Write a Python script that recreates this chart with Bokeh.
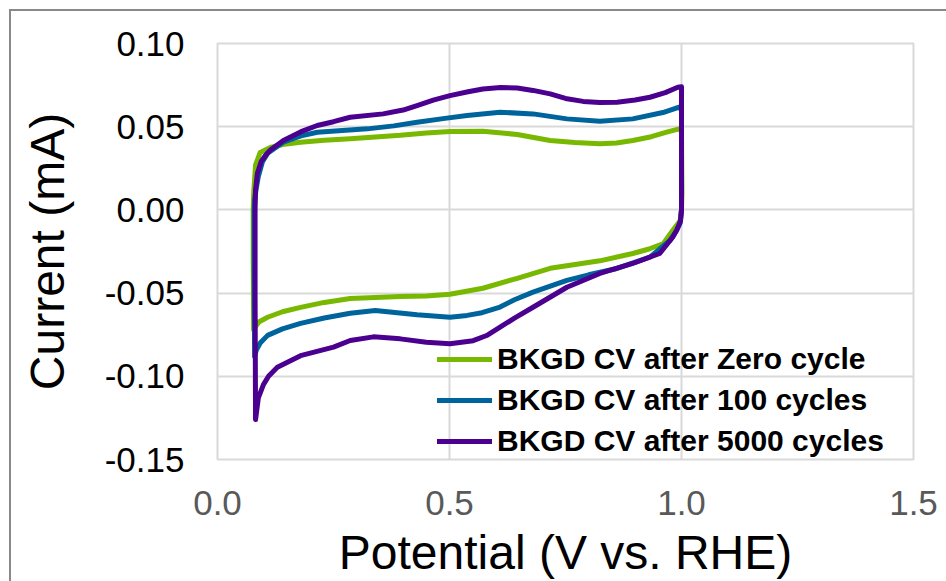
from bokeh.plotting import figure
from bokeh.models import Range1d, FixedTicker, NumeralTickFormatter, Legend, LegendItem
from bokeh.embed import file_html
from bokeh.resources import INLINE

# ---- data ----
x_zero = [0.078, 0.077, 0.077, 0.078, 0.082, 0.092, 0.114, 0.140, 0.179, 0.230, 0.286, 0.340, 0.394,
          0.450, 0.501, 0.572, 0.646, 0.717, 0.770, 0.824, 0.860, 0.895, 0.935, 0.968, 0.995,
          1.000, 1.001, 1.000, 0.997, 0.981, 0.961, 0.930, 0.895, 0.824, 0.717, 0.646, 0.572,
          0.501, 0.450, 0.394, 0.286, 0.230, 0.179, 0.140, 0.108, 0.090, 0.082, 0.078]
y_zero = [-0.072, -0.030, 0.000, 0.010, 0.027, 0.0345, 0.0375, 0.0393, 0.0406, 0.0418, 0.0428, 0.0438, 0.0448,
          0.0462, 0.0471, 0.0473, 0.0453, 0.0417, 0.0405, 0.0397, 0.0402, 0.0417, 0.0440, 0.0467, 0.0487,
          0.047, 0.010, 0.000, -0.0065, -0.0124, -0.0202, -0.0235, -0.0262, -0.0306, -0.0351, -0.0411, -0.0471,
          -0.0507, -0.0517, -0.0520, -0.0532, -0.0556, -0.0586, -0.0612, -0.0645, -0.0672, -0.0700, -0.072]

x_100 = [0.080, 0.079, 0.079, 0.080, 0.083, 0.088, 0.097, 0.108, 0.142, 0.180, 0.215, 0.323, 0.380, 0.430,
         0.490, 0.538, 0.609, 0.680, 0.753, 0.824, 0.895, 0.960, 0.995, 1.000, 1.000, 0.997, 0.988,
         0.975, 0.932, 0.861, 0.800, 0.753, 0.680, 0.640, 0.609, 0.570, 0.538, 0.501, 0.430, 0.340, 0.286, 0.230,
         0.179, 0.140, 0.108, 0.092, 0.084, 0.080]
y_100 = [-0.088, -0.040, 0.000, 0.006, 0.012, 0.020, 0.029, 0.034, 0.0407, 0.0445, 0.0467, 0.0487, 0.0505, 0.0527,
         0.0550, 0.0567, 0.0587, 0.0577, 0.0547, 0.0533, 0.0547, 0.0585, 0.0617, 0.060, 0.000, -0.008, -0.013,
         -0.0184, -0.0284, -0.0352, -0.0390, -0.0424, -0.0494, -0.0540, -0.0584, -0.0618, -0.0634, -0.0645, -0.0630, -0.0605, -0.0621, -0.0650,
         -0.0682, -0.0715, -0.0754, -0.0800, -0.084, -0.088]

x_5000 = [0.082, 0.081, 0.081, 0.082, 0.086, 0.094, 0.104, 0.114, 0.142, 0.180, 0.215, 0.250, 0.286, 0.357,
          0.400, 0.430, 0.465, 0.501, 0.540, 0.572, 0.610, 0.646, 0.680, 0.717, 0.750, 0.788, 0.824, 0.861,
          0.900, 0.932, 0.965, 0.992, 1.000, 1.000, 0.998, 0.990, 0.981, 0.953, 0.895, 0.824, 0.753,
          0.680, 0.640, 0.609, 0.580, 0.551, 0.501, 0.450, 0.394, 0.336, 0.286, 0.250, 0.179, 0.129,
          0.110, 0.099, 0.088, 0.082]
y_5000 = [-0.126, -0.050, 0.000, 0.012, 0.022, 0.029, 0.033, 0.036, 0.0417, 0.0470, 0.0507, 0.0530, 0.0557, 0.0577,
          0.0600, 0.0627, 0.0660, 0.0687, 0.0710, 0.0727, 0.0735, 0.0733, 0.0718, 0.0697, 0.0670, 0.0652, 0.0645, 0.0647,
          0.0660, 0.0677, 0.0705, 0.0737, 0.074, 0.000, -0.0065, -0.012, -0.0164, -0.0262, -0.0322, -0.0382, -0.0465,
          -0.0585, -0.0650, -0.0705, -0.0755, -0.0786, -0.0805, -0.0795, -0.0775, -0.0763, -0.0785, -0.0825, -0.0876, -0.0946,
          -0.1000, -0.105, -0.113, -0.126]

series_labels = ["BKGD CV after Zero cycle", "BKGD CV after 100 cycles", "BKGD CV after 5000 cycles"]
series_colors = ["#78B800", "#00649C", "#4B0090"]

x_ticks = [0.0, 0.5, 1.0, 1.5]
y_ticks = [-0.15, -0.10, -0.05, 0.00, 0.05, 0.10]

FONT = "Liberation Sans"

p = figure(width=946, height=581, output_backend="svg", toolbar_location=None,
           x_range=Range1d(0, 1.5), y_range=Range1d(-0.15, 0.10),
           min_border_left=217, min_border_top=43, min_border_right=33, min_border_bottom=122)
# outer chart-area border (top and left edges, as in the reference crop)
p.styles = {"background-color": "white",
            "box-shadow": "inset 9px 9px 0 0 white, inset 11px 11px 0 0 #898989"}

p.background_fill_color = "white"
p.border_fill_alpha = 0
p.outline_line_color = "#D9D9D9"
p.outline_line_width = 2

renderers = []
for xs, ys, c in zip([x_zero, x_100, x_5000], [y_zero, y_100, y_5000], series_colors):
    r = p.line(xs, ys, line_color=c, line_width=5, line_join="round", line_cap="round")
    renderers.append(r)

for ax in (p.xaxis[0], p.yaxis[0]):
    ax.axis_line_color = None
    ax.major_tick_line_color = None
    ax.minor_tick_line_color = None
    ax.major_tick_out = 0
    ax.major_tick_in = 0
    ax.major_label_text_font = FONT
    ax.major_label_text_font_size = "35px"
    ax.axis_label_text_font = FONT
    ax.axis_label_text_font_size = "48px"
    ax.axis_label_text_font_style = "normal"
    ax.axis_label_text_color = "black"

p.xaxis.ticker = FixedTicker(ticks=x_ticks)
p.yaxis.ticker = FixedTicker(ticks=y_ticks)
p.xaxis.formatter = NumeralTickFormatter(format="0.0")
p.yaxis.formatter = NumeralTickFormatter(format="0.00")
p.xaxis.major_label_text_color = "#595959"
p.yaxis.major_label_text_color = "black"
p.xaxis.major_label_standoff = 31
p.yaxis.major_label_standoff = 33
p.xaxis.axis_label = "Potential (V vs. RHE)"
p.yaxis.axis_label = "Current (mA)"
p.xaxis.axis_label_standoff = 8
p.yaxis.axis_label_standoff = 28

p.xgrid.ticker = FixedTicker(ticks=x_ticks)
p.ygrid.ticker = FixedTicker(ticks=y_ticks)
p.grid.grid_line_color = "#D9D9D9"
p.grid.grid_line_width = 2

legend = Legend(items=[LegendItem(label=l, renderers=[r]) for l, r in zip(series_labels, renderers)],
                location=(220, 1))
legend.label_text_font = FONT
legend.label_text_font_size = "30px"
legend.label_text_font_style = "bold"
legend.label_text_color = "black"
legend.glyph_width = 55
legend.glyph_height = 34
legend.label_height = 34
legend.label_standoff = 5
legend.spacing = 7
legend.padding = 0
legend.margin = 0
legend.border_line_color = None
legend.background_fill_alpha = 0
p.add_layout(legend, "center")

open("out.html", "w").write(file_html(p, INLINE))
